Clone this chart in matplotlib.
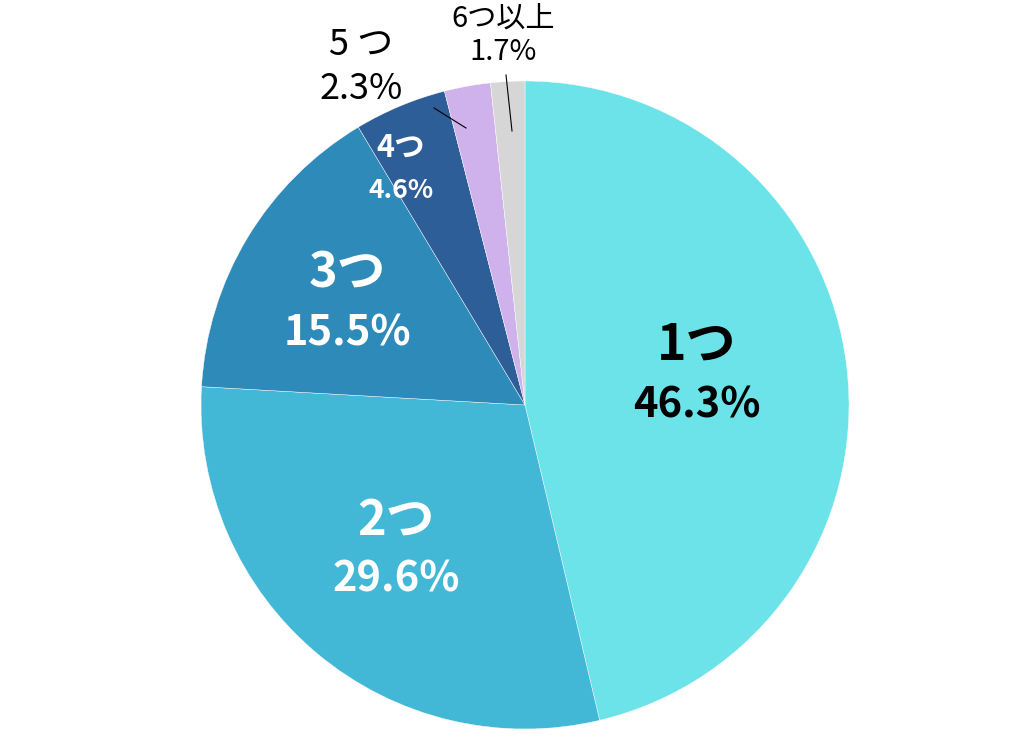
import matplotlib
matplotlib.use('Agg')
import matplotlib.pyplot as plt

plt.rcParams['font.family'] = ['Noto Sans CJK JP', 'DejaVu Sans']

labels = ['1つ', '2つ', '3つ', '4つ', '5 つ', '6つ以上']
shares = [46.3, 29.6, 15.5, 4.6, 2.3, 1.7]
colors = ['#6be3e8', '#43b7d6', '#2e8ab8', '#2e5e97', '#cfb1ec', '#d6d6d6']

W, H = 1024, 741
fig = plt.figure(figsize=(W / 100, H / 100), dpi=100)
ax = fig.add_axes([0, 0, 1, 1])

cx, cy, r = 525, H - 405, 324
ax.pie(shares, colors=colors, startangle=90, counterclock=False,
       center=(cx, cy), radius=r, frame=True,
       wedgeprops=dict(edgecolor='white', linewidth=0.3))
ax.set_xlim(0, W)
ax.set_ylim(0, H)
ax.set_aspect('equal')
ax.axis('off')

def y(p):
    return H - p

# labels inside the wedges: (x, y_name, y_pct, name size, pct size, colour)
inside = [
    (697, 345, 405, 36, 30, 'black'),
    (396, 520, 580, 35, 30, 'white'),
    (347, 273, 333, 35, 30, 'white'),
    (401, 148, 190, 22, 19, 'white'),
]
for i, (x, yn, yp, sn, sp, c) in enumerate(inside):
    ax.text(x, y(yn), labels[i], ha='center', va='center', fontsize=sn,
            fontweight='bold', color=c)
    ax.text(x, y(yp), f'{shares[i]}%', ha='center', va='center', fontsize=sp,
            fontweight='bold', color=c)

# outside labels with leader lines
ax.text(361, y(45), labels[4], ha='center', va='center', fontsize=26)
ax.text(361, y(89), f'{shares[4]}%', ha='center', va='center', fontsize=26)
ax.plot([434, 466], [y(108), y(128)], color='black', lw=0.8)

ax.text(503, y(20), labels[5], ha='center', va='center', fontsize=21)
ax.text(503, y(52), f'{shares[5]}%', ha='center', va='center', fontsize=21)
ax.plot([506, 512], [y(75), y(131)], color='black', lw=0.8)

fig.savefig('out.png', dpi=100, facecolor='white')
